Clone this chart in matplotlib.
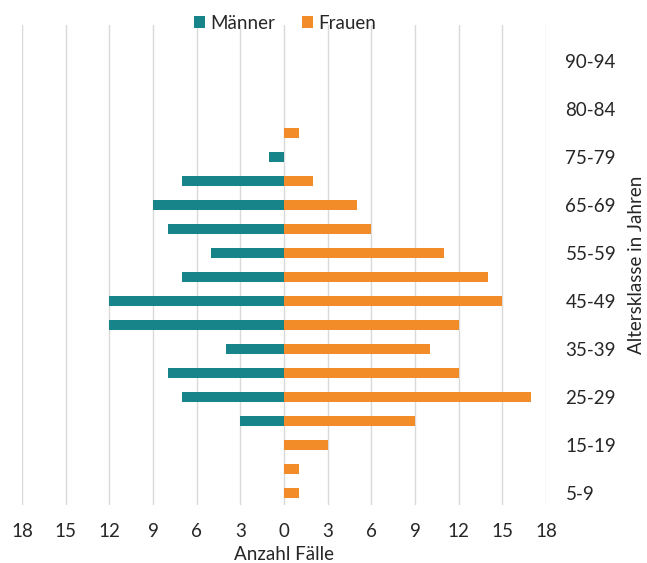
import numpy as np
from matplotlib import pyplot as plt

# data (rows bottom to top)
age_labels = ["5-9", "", "15-19", "", "25-29", "", "35-39", "", "45-49", "",
              "55-59", "", "65-69", "", "75-79", "", "80-84", "", "90-94", ""]
maenner = [0, 0, 0, 3, 7, 8, 4, 12, 12, 7, 5, 8, 9, 7, 1, 0, 0, 0, 0, 0]
frauen = [1, 1, 3, 9, 17, 12, 10, 12, 15, 14, 11, 6, 5, 2, 0, 1, 0, 0, 0, 0]
xticks = [-18, -15, -12, -9, -6, -3, 0, 3, 6, 9, 12, 15, 18]

teal = '#168489'
orange = '#F28C28'
fs = 13.5

plt.rcParams['font.family'] = ['Lato', 'DejaVu Sans']

fig = plt.figure(figsize=(6.47, 5.63), dpi=100)
ax = fig.add_axes([22/647, 58/563, 524/647, 480/563])

y = np.arange(len(age_labels))
ax.barh(y, -np.array(maenner), height=0.42, color=teal, label='Männer', zorder=3)
ax.barh(y, frauen, height=0.42, color=orange, label='Frauen', zorder=3)

ax.set_xlim(-18, 18)
ax.set_ylim(-0.5, 19.5)
ax.set_xticks(xticks)
ax.set_xticklabels([str(abs(t)) for t in xticks], fontsize=fs, color='#262626')
ax.tick_params(axis='x', length=0, pad=13)

ax.yaxis.tick_right()
ax.set_yticks(y)
ax.set_yticklabels(age_labels, fontsize=fs, color='#262626', ha='left')
ax.tick_params(axis='y', length=0, pad=14)

ax.grid(axis='x', color='#d9d9d9', linewidth=1, zorder=0)
for s in ax.spines.values():
    s.set_visible(False)

ax.set_xlabel('Anzahl Fälle', fontsize=fs, color='#262626', labelpad=4)
fig.text(637/647, (563-265)/563, 'Altersklasse in Jahren', rotation=90,
         ha='center', va='center', fontsize=fs, color='#262626')

ax.legend(loc='upper center', bbox_to_anchor=(263/524, 1.0 + 27/480), ncol=2, frameon=False,
          fontsize=fs, handlelength=0.6, handleheight=0.6, handletextpad=0.3,
          columnspacing=1.4, labelcolor='#262626')

plt.savefig('out.png', dpi=100)
